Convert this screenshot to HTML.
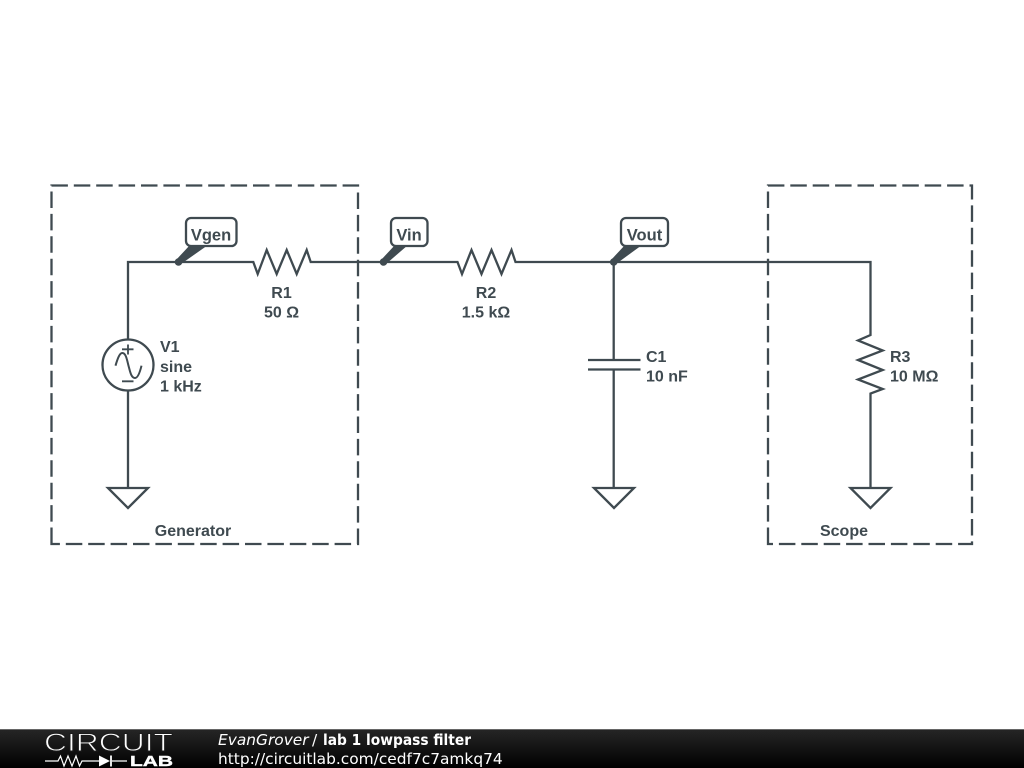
<!DOCTYPE html>
<html>
<head>
<meta charset="utf-8">
<style>
html,body{margin:0;padding:0;background:#fff;width:1024px;height:768px;overflow:hidden}
svg{display:block}
.t{font-family:"Liberation Sans",sans-serif;font-weight:bold;font-size:16px;fill:#3f4a50}
.n{font-size:16.5px}
.f{font-family:"DejaVu Sans",sans-serif;font-size:15.4px;fill:#fff}
.w{fill:none;stroke:#3f4a50;stroke-width:2.3}
</style>
</head>
<body>
<svg width="1024" height="768" viewBox="0 0 1024 768" xmlns="http://www.w3.org/2000/svg">
<defs>
<linearGradient id="g" x1="0" y1="0" x2="0" y2="1">
<stop offset="0" stop-color="#262626"/><stop offset="0.5" stop-color="#131313"/><stop offset="1" stop-color="#000"/>
</linearGradient>
</defs>
<rect width="1024" height="768" fill="#fff"/>

<!-- dashed boxes -->
<path class="w" stroke-dasharray="16.5 5.9" d="M51.5 544V185.5H358V544Z"/>
<path class="w" stroke-dasharray="16.5 5.9" d="M768 544V185.5H972V544Z"/>

<!-- wires -->
<path class="w" d="M128 339V262H253.3L257.7 274L266.7 250L276.7 274L286.7 250L296.7 274L306.7 250L310.7 262H457.5L462 274L471.5 250L481.5 274L491.5 250L501.5 274L511.5 250L515.5 262H870.5V335L858 340.5L882.7 350.5L858 360L882.7 370L858 379.5L882.7 389L870.5 393.5V488"/>
<path class="w" d="M128 391V488"/>
<path class="w" d="M613.7 262V360M613.7 369.5V488"/>
<path class="w" d="M588 360H640.5M588 369.5H640.5"/>

<!-- V1 -->
<circle class="w" cx="128" cy="365" r="25.5"/>
<path class="w" d="M128 344.5V354.5M122 349.3H133.5M122 381.3H133.5" style="stroke-width:1.8"/>
<path class="w" d="M115.5 365.7C118 357 120 353 122.3 353C126 353 127 360 128.5 365.7C130 371 131 378 135 378C137.5 378 139.5 374 141.5 365.7" style="stroke-width:2"/>

<!-- grounds -->
<path class="w" d="M108 488H148L128 508Z"/>
<path class="w" d="M594 488H634L614 508Z"/>
<path class="w" d="M850.5 488H890.5L870.5 508Z"/>

<!-- node labels -->
<path d="M176 260L190 245H208L181 264Z" fill="#3f4a50"/>
<circle cx="178.5" cy="262" r="3.8" fill="#3f4a50"/>
<rect class="w" x="186" y="218" width="50.5" height="28" rx="5" style="fill:#fff"/>
<text class="t n" x="211" y="240.5" text-anchor="middle">Vgen</text>

<path d="M381 260L395 245H408L386 264Z" fill="#3f4a50"/>
<circle cx="383.5" cy="262" r="3.8" fill="#3f4a50"/>
<rect class="w" x="391" y="218" width="36.5" height="28" rx="5" style="fill:#fff"/>
<text class="t n" x="409" y="240.5" text-anchor="middle">Vin</text>

<path d="M611 260L625 245H642L616 264Z" fill="#3f4a50"/>
<circle cx="613.7" cy="262" r="3.8" fill="#3f4a50"/>
<rect class="w" x="621" y="218" width="47" height="28" rx="5" style="fill:#fff"/>
<text class="t n" x="644.5" y="240.5" text-anchor="middle">Vout</text>

<!-- component labels -->
<text class="t" x="281.5" y="298" text-anchor="middle">R1</text>
<text class="t" x="281.5" y="317.5" text-anchor="middle">50 Ω</text>
<text class="t" x="486" y="298" text-anchor="middle">R2</text>
<text class="t" x="486" y="317.5" text-anchor="middle">1.5 kΩ</text>
<text class="t" x="160" y="352">V1</text>
<text class="t" x="160" y="372">sine</text>
<text class="t" x="160" y="391.5">1 kHz</text>
<text class="t" x="646" y="362">C1</text>
<text class="t" x="646" y="381.5">10 nF</text>
<text class="t" x="890" y="362">R3</text>
<text class="t" x="890" y="381.5">10 MΩ</text>
<text class="t" x="193" y="536" text-anchor="middle">Generator</text>
<text class="t" x="844" y="536" text-anchor="middle">Scope</text>

<!-- footer -->
<rect x="0" y="729" width="1024" height="39" fill="url(#g)"/>
<rect x="0" y="729" width="1024" height="1" fill="#666"/>
<text x="44" y="751" textLength="129" lengthAdjust="spacingAndGlyphs" style="font-family:'Liberation Sans',sans-serif;font-size:25px;fill:#fff;stroke:#1c1c1c;stroke-width:0.9">CIRCUIT</text>
<path d="M45 761H58L60.5 756L64 766L68 756L72 766L76 756L79.5 766L82 761H99M112 761H127" fill="none" stroke="#fff" stroke-width="1.2"/>
<path d="M99 755.5L110 761L99 766.5Z" fill="#fff"/>
<path d="M111 755.5V766.5" stroke="#fff" stroke-width="1.8"/>
<text x="130" y="766" textLength="43" lengthAdjust="spacingAndGlyphs" style="font-family:'Liberation Sans',sans-serif;font-weight:bold;font-size:15px;fill:#fff;stroke:#fff;stroke-width:0.4">LAB</text>
<text class="f" x="218" y="745" font-style="italic">EvanGrover</text>
<text class="f" x="312" y="745">/</text>
<text class="f" x="323" y="745" textLength="148" lengthAdjust="spacingAndGlyphs" font-weight="bold">lab 1 lowpass filter</text>
<text class="f" x="218" y="764">http://circuitlab.com/cedf7c7amkq74</text>
</svg>
</body>
</html>
